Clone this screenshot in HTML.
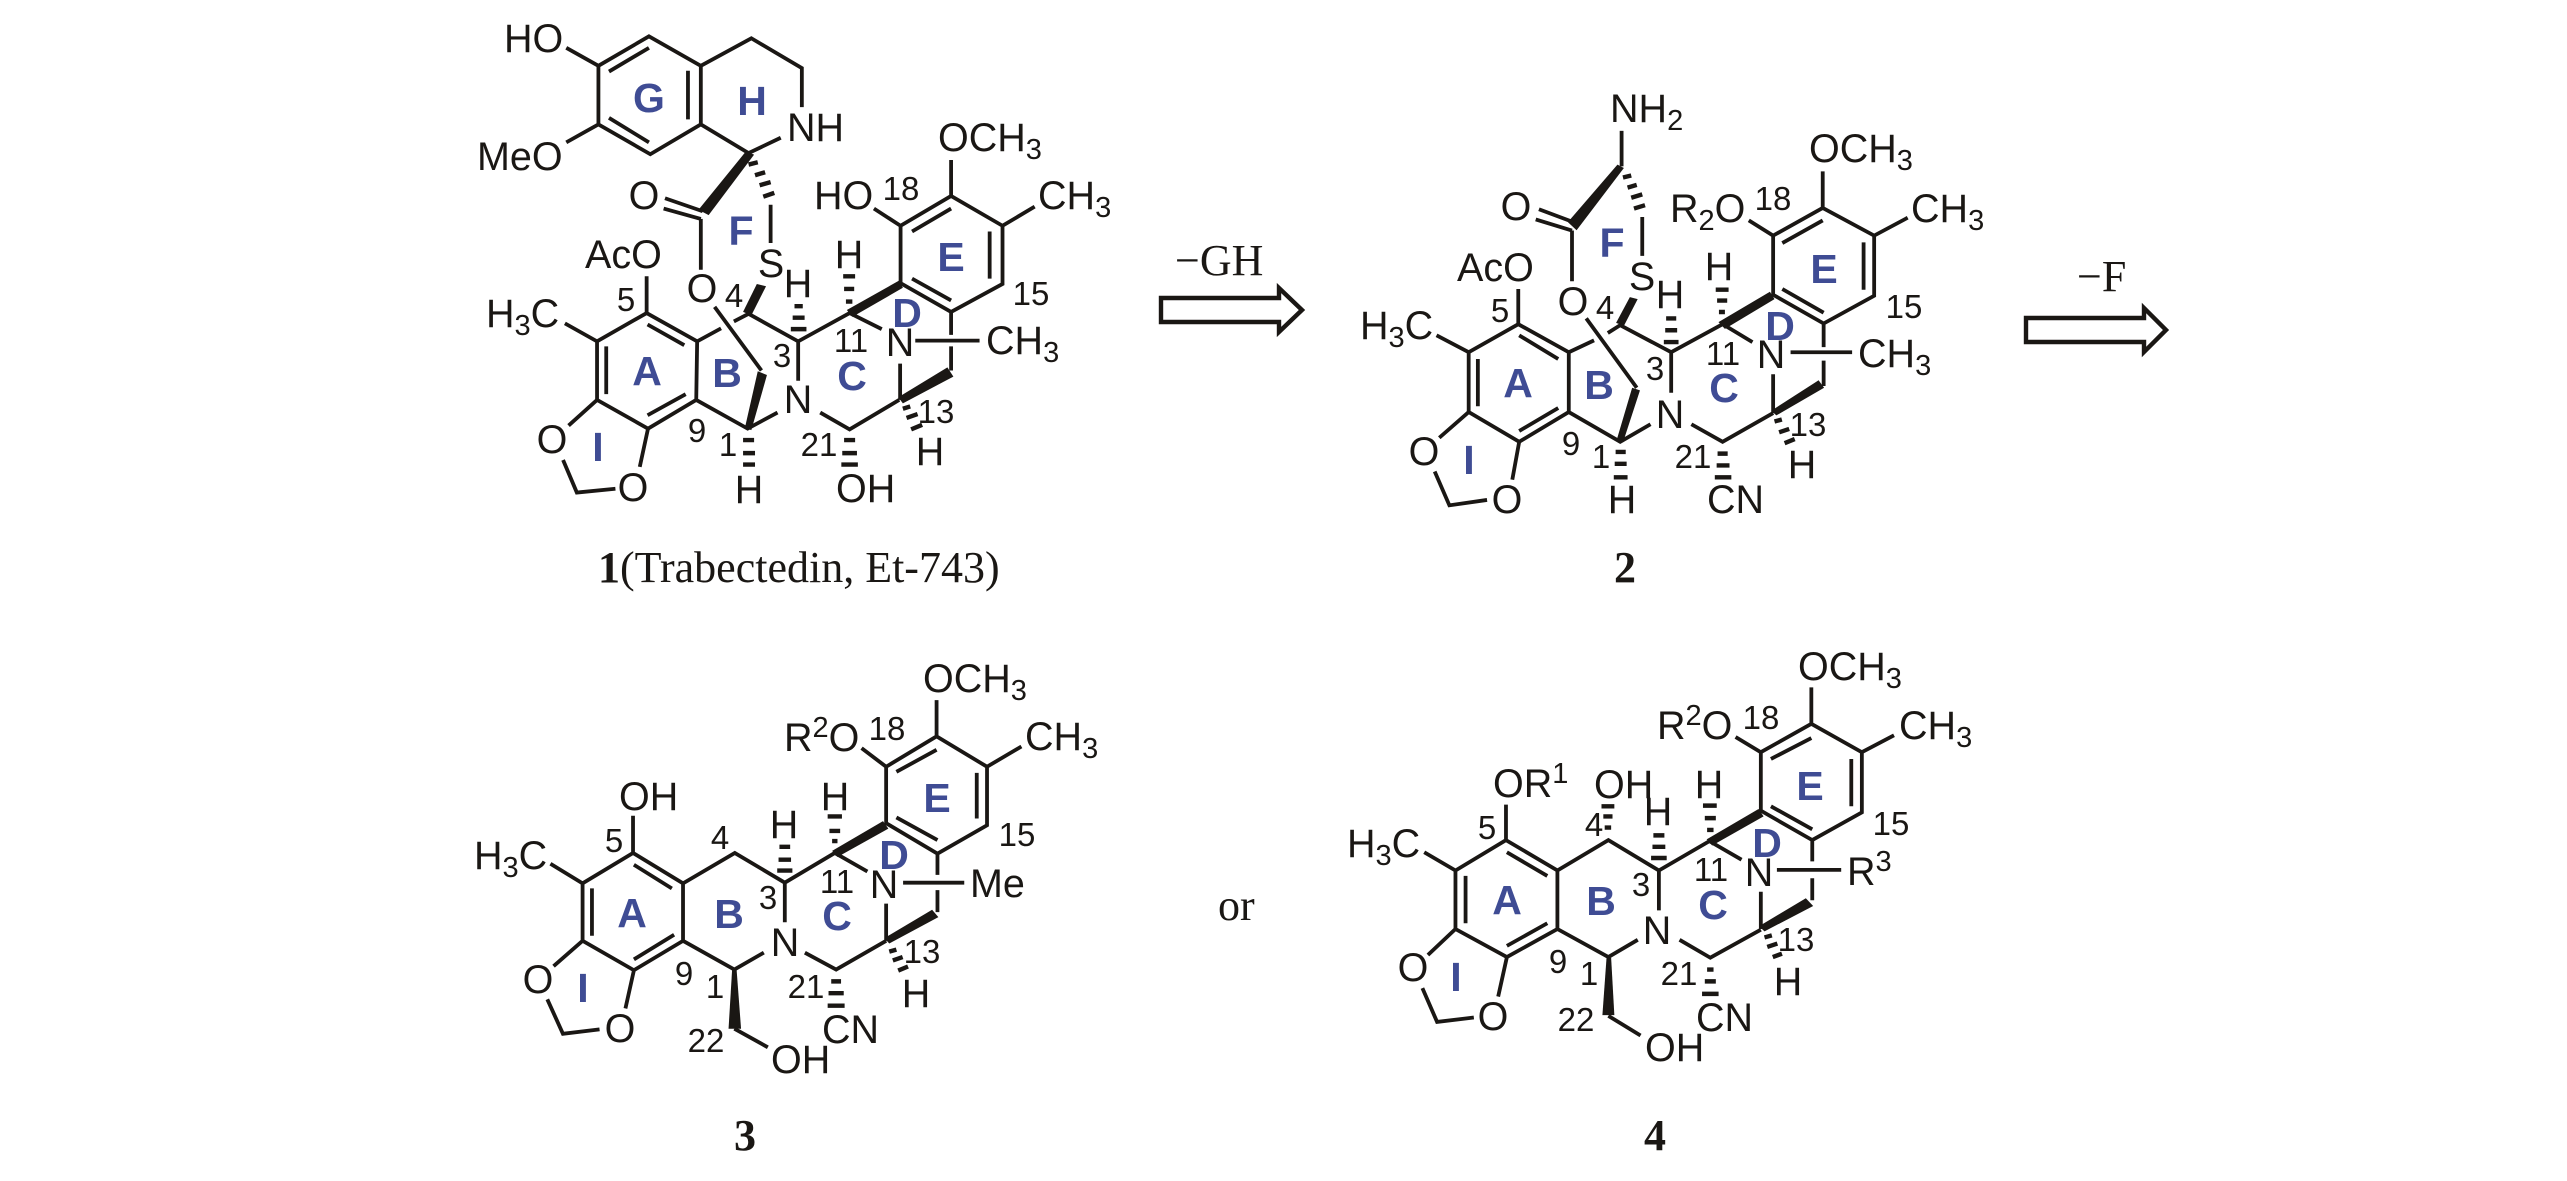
<!DOCTYPE html>
<html><head><meta charset="utf-8"><title>Trabectedin</title>
<style>
html,body{margin:0;padding:0;background:#fff;width:2567px;height:1181px;overflow:hidden}
svg{display:block}
path{fill:none;stroke:#1a1714;stroke-width:3.8;vector-effect:non-scaling-stroke}
path.h{stroke-width:4.4}
polygon{fill:#1a1714;stroke:none}
text{font-family:"Liberation Sans",sans-serif;fill:#1a1714;font-size:39.5px}
.m{text-anchor:middle}
.n{font-size:33px;text-anchor:middle}
.r{font-size:41px;font-weight:bold;fill:#3f4c94;text-anchor:middle}
.s{font-family:"Liberation Serif",serif;font-size:44px}
.b{font-family:"Liberation Serif",serif;font-size:44px;font-weight:bold;text-anchor:middle}
tspan.u{font-size:29px}
</style></head><body>
<svg width="2567" height="1181" viewBox="0 0 2567 1181" xmlns="http://www.w3.org/2000/svg">
<rect width="2567" height="1181" fill="#fff"/>

<!-- Compound 1 -->
<g transform="translate(440,0) scale(.4592,.3827)">
<path d="M275 125L345 172M345 172L455 95L568 172L568 325L458 403L345 325ZM368 187L455 125M540 185L540 312M368 308L455 372M568 172L678 100L788 178L788 280M568 325L672 400L742 360M345 325L275 372"/>
<polygon points="666,396 684,404 585,562 563,548"/>
<path class="h" d="M672 430L692 424M686 458L708 450M696 484L720 476M704 514L728 504"/>
<path d="M720 535L720 635M490 518L572 552M487 545L568 572M568 572L568 705M450 722L450 818"/>
<polygon points="690,742 710,748 678,824 660,815"/>
<path d="M450 818L560 892L558 1045L453 1120L342 1045L342 892ZM452 848L532 902M362 905L362 1030M452 1085L535 1030M272 845L342 892M560 892L612 858M640 840L672 820L780 892M598 802L700 968M558 1045L670 1120L735 1078M780 892L780 995M828 1078L892 1122L1000 1045M780 892L892 818M892 818L962 860"/>
<polygon points="692,970 712,980 678,1124 664,1118"/>
<polygon points="886,810 1000,733 1008,752 898,828"/>
<path class="h" d="M772 800L790 800M768 830L794 830M764 860L798 860M878 722L904 722M880 755L902 755M884 788L898 788"/>
<path d="M1003 590L1113 512L1225 590L1225 742L1113 815L1003 740ZM1028 605L1113 545M1197 605L1197 728M1028 728L1113 785M1113 512L1113 418M1225 590L1295 540M945 545L1003 590M1113 815L1113 875M1113 905L1113 968M1002 950L1002 1045M1035 890L1175 890"/>
<polygon points="998,1038 1105,960 1118,984 1008,1054"/>
<path class="h" d="M1008 1068L1024 1062M1016 1092L1040 1082M1026 1122L1050 1110M660 1150L684 1150M660 1184L686 1184M660 1214L686 1214M880 1150L904 1150M876 1184L908 1184M874 1214L910 1214"/>
<path d="M342 1045L280 1112M453 1120L435 1220M268 1202L298 1287L382 1277"/>
</g>
<text x="504" y="52">HO</text>
<text x="477" y="170">MeO</text>
<text x="787" y="141">NH</text>
<text class="m" x="644" y="209">O</text>
<text class="r" x="741" y="245">F</text>
<text class="m" x="771" y="277">S</text>
<text class="m" x="798" y="297">H</text>
<text x="585" y="268">AcO</text>
<text class="n" x="626" y="311">5</text>
<text class="n" x="734" y="307">4</text>
<text x="486" y="327">H<tspan class="u" dy="8">3</tspan><tspan dy="-8">C</tspan></text>
<text class="m" x="702" y="302">O</text>
<text x="814" y="209">HO</text>
<text class="n" x="901" y="200">18</text>
<text x="938" y="151">OCH<tspan class="u" dy="8">3</tspan></text>
<text x="1038" y="209">CH<tspan class="u" dy="8">3</tspan></text>
<text class="m" x="849" y="268">H</text>
<text class="r" x="951" y="271">E</text>
<text class="r" x="647" y="385">A</text>
<text class="r" x="727" y="387">B</text>
<text class="r" x="852" y="390">C</text>
<text class="r" x="907" y="327">D</text>
<text class="r" x="649" y="112">G</text>
<text class="r" x="752" y="115">H</text>
<text class="r" x="598" y="461">I</text>
<text class="n" x="1031" y="305">15</text>
<text class="m" x="900" y="356">N</text>
<text x="986" y="354">CH<tspan class="u" dy="8">3</tspan></text>
<text class="n" x="851" y="352">11</text>
<text class="n" x="782" y="367">3</text>
<text class="m" x="798" y="413">N</text>
<text class="n" x="936" y="423">13</text>
<text class="n" x="697" y="442">9</text>
<text class="n" x="728" y="456">1</text>
<text class="n" x="819" y="456">21</text>
<text class="m" x="930" y="465">H</text>
<text class="m" x="552" y="453">O</text>
<text class="m" x="633" y="501">O</text>
<text class="m" x="749" y="503">H</text>
<text x="836" y="502">OH</text>
<text class="s" x="598" y="582"><tspan font-weight="bold">1</tspan>(Trabectedin, Et-743)</text>

<!-- Arrow 1 -->
<path d="M1279 298L1161 298L1161 322L1279 322L1279 332L1302 310L1279 288Z" style="stroke-width:4.4"/>
<text class="s" x="1175" y="275">−GH</text>

<!-- Compound 2 -->
<g transform="translate(1330,70) scale(.4592,.338)">
<path d="M635 180L635 285"/>
<polygon points="626,280 640,290 537,474 518,450"/>
<path class="h" d="M638 318L656 312M648 348L668 340M656 378L680 368M662 410L686 400"/>
<path d="M680 435L680 550M455 412L530 450M448 442L527 475M527 475L527 625M410 648L410 750"/>
<polygon points="653,672 670,678 640,757 623,748"/>
<path d="M410 752L520 835L520 1012L412 1100L302 1012L302 835ZM412 785L497 855M322 855L322 995M412 1068L497 1000M232 785L302 835M520 835L575 800M605 778L632 755L743 835M558 735L668 940M520 1012L632 1100L698 1048M743 835L743 955M787 1048L855 1100L965 1015M743 835L855 752M855 752L920 805"/>
<polygon points="658,940 675,948 638,1102 624,1096"/>
<polygon points="846,746 958,656 968,678 860,766"/>
<path class="h" d="M732 735L754 735M730 770L756 770M727 805L759 805M840 650L868 650M843 682L865 682M847 716L860 716"/>
<path d="M965 490L1073 408L1185 490L1185 668L1075 750L965 665ZM985 512L1073 445M1162 510L1162 650M985 648L1075 718M1073 300L1073 408M1185 490L1258 437M912 445L965 490M1075 750L1075 820M1075 860L1075 935M965 900L965 1015M1003 835L1137 835"/>
<polygon points="961,1008 1064,918 1076,940 972,1022"/>
<path class="h" d="M968 1040L984 1034M978 1072L1000 1062M990 1104L1012 1092M622 1130L644 1130M620 1165L646 1165M618 1205L648 1205M844 1135L866 1135M842 1170L870 1170M838 1205L874 1205"/>
<path d="M302 1012L238 1088M412 1100L397 1212M228 1188L260 1288L342 1272"/>
</g>
<text x="1610" y="122">NH<tspan class="u" dy="8">2</tspan></text>
<text class="m" x="1516" y="220">O</text>
<text class="r" x="1612" y="257">F</text>
<text class="m" x="1642" y="290">S</text>
<text class="m" x="1670" y="308">H</text>
<text x="1670" y="222">R<tspan class="u" dy="8">2</tspan><tspan dy="-8">O</tspan></text>
<text class="n" x="1773" y="210">18</text>
<text x="1809" y="162">OCH<tspan class="u" dy="8">3</tspan></text>
<text x="1911" y="222">CH<tspan class="u" dy="8">3</tspan></text>
<text class="m" x="1719" y="280">H</text>
<text class="r" x="1824" y="283">E</text>
<text x="1457" y="281">AcO</text>
<text class="n" x="1500" y="322">5</text>
<text class="n" x="1605" y="319">4</text>
<text class="m" x="1573" y="315">O</text>
<text class="n" x="1904" y="318">15</text>
<text x="1360" y="339">H<tspan class="u" dy="8">3</tspan><tspan dy="-8">C</tspan></text>
<text class="r" x="1780" y="340">D</text>
<text class="m" x="1771" y="368">N</text>
<text x="1858" y="367">CH<tspan class="u" dy="8">3</tspan></text>
<text class="n" x="1723" y="365">11</text>
<text class="n" x="1655" y="380">3</text>
<text class="r" x="1518" y="397">A</text>
<text class="r" x="1599" y="399">B</text>
<text class="r" x="1724" y="402">C</text>
<text class="m" x="1670" y="428">N</text>
<text class="n" x="1808" y="436">13</text>
<text class="n" x="1571" y="455">9</text>
<text class="n" x="1601" y="468">1</text>
<text class="n" x="1693" y="468">21</text>
<text class="m" x="1802" y="478">H</text>
<text class="m" x="1424" y="465">O</text>
<text class="r" x="1469" y="474">I</text>
<text class="m" x="1507" y="513">O</text>
<text class="m" x="1622" y="513">H</text>
<text x="1707" y="513">CN</text>
<text class="b" x="1625" y="582">2</text>

<!-- Arrow 2 -->
<path d="M2144 318L2026 318L2026 342L2144 342L2144 352L2166 330L2144 308Z" style="stroke-width:4.4"/>
<text class="s" x="2077" y="291">−F</text>

<!-- Compound 3 -->
<g transform="translate(450,640) scale(.4464,.338)">
<path d="M1090 178L1090 285M977 375L1090 285L1203 375L1203 548L1092 632L977 542ZM1000 390L1090 325M1180 393L1180 528M1000 525L1092 592M1203 375L1280 315M922 320L977 375M410 520L410 630M410 630L522 720L522 890L412 977L297 890L297 720ZM412 665L497 735M318 735L318 875M412 945L502 872M225 662L297 720M522 720L638 630L750 718M522 890L637 975L703 925M750 718L750 835M795 925L865 975L977 890M750 718L862 630M862 630L935 685M1092 632L1092 695M1092 740L1092 805M977 780L977 890M1015 718L1152 718M637 1150L712 1205M297 890L232 965M412 977L393 1090M218 1063L253 1165L335 1152"/>
<polygon points="856,624 970,536 982,558 868,642"/>
<polygon points="973,882 1080,798 1094,820 984,898"/>
<polygon points="632,975 624,1150 652,1150 642,975"/>
<path class="h" d="M738 612L762 612M736 650L764 650M733 682L767 682M846 522L878 522M850 565L874 565M856 595L868 595M854 1010L876 1010M848 1045L882 1045M846 1082L884 1082M984 922L1000 916M992 948L1014 938M1004 978L1026 966"/>
</g>
<text x="923" y="692">OCH<tspan class="u" dy="8">3</tspan></text>
<text x="784" y="751">R<tspan class="u" dy="-14">2</tspan><tspan dy="14">O</tspan></text>
<text class="n" x="887" y="740">18</text>
<text x="1025" y="750">CH<tspan class="u" dy="8">3</tspan></text>
<text x="619" y="810">OH</text>
<text class="m" x="835" y="810">H</text>
<text class="r" x="937" y="812">E</text>
<text class="m" x="784" y="838">H</text>
<text class="n" x="720" y="849">4</text>
<text class="n" x="614" y="852">5</text>
<text class="n" x="1017" y="846">15</text>
<text x="474" y="869">H<tspan class="u" dy="8">3</tspan><tspan dy="-8">C</tspan></text>
<text class="r" x="894" y="869">D</text>
<text class="m" x="884" y="898">N</text>
<text x="970" y="897">Me</text>
<text class="n" x="837" y="893">11</text>
<text class="n" x="768" y="909">3</text>
<text class="r" x="632" y="927">A</text>
<text class="r" x="729" y="928">B</text>
<text class="r" x="837" y="930">C</text>
<text class="m" x="785" y="956">N</text>
<text class="n" x="922" y="963">13</text>
<text class="n" x="684" y="985">9</text>
<text class="n" x="715" y="998">1</text>
<text class="n" x="806" y="998">21</text>
<text class="m" x="916" y="1007">H</text>
<text class="m" x="538" y="993">O</text>
<text class="r" x="583" y="1002">I</text>
<text class="m" x="620" y="1042">O</text>
<text class="n" x="706" y="1052">22</text>
<text x="822" y="1043">CN</text>
<text x="771" y="1073">OH</text>
<text class="b" x="745" y="1150">3</text>

<text class="s" x="1218" y="920">or</text>

<!-- Compound 4 -->
<g transform="translate(1320,640) scale(.4592,.338)">
<path d="M1070 140L1070 248M960 332L1070 248L1180 332L1180 510L1072 592L960 505ZM982 352L1070 290M1157 352L1157 492M982 492L1072 560M1180 332L1250 282M905 287L960 332M405 487L405 592M405 592L517 682L517 855L407 938L295 855L295 682ZM407 628L495 698M317 698L317 838M407 905L495 838M227 628L295 682M517 682L628 592L738 682M517 855L628 938L692 887M738 682L738 800M783 887L850 940L960 857M738 682L848 595M848 595L918 650M1072 592L1072 655M1072 705L1072 770M960 745L960 855M995 680L1135 680M628 1112L698 1170M295 855L235 932M407 938L388 1055M223 1030L255 1130L335 1117"/>
<polygon points="842,590 955,500 966,522 854,608"/>
<polygon points="956,847 1058,764 1074,787 968,862"/>
<polygon points="624,940 615,1110 641,1110 634,940"/>
<path class="h" d="M613 492L641 492M617 522L637 522M620 555L634 555M726 578L750 578M724 612L752 612M721 645L755 645M834 490L864 490M838 527L862 527M843 562L857 562M843 975L857 975M838 1010L862 1010M832 1047L868 1047M968 880L984 874M974 908L996 898M986 938L1006 928"/>
</g>
<text x="1798" y="680">OCH<tspan class="u" dy="8">3</tspan></text>
<text x="1657" y="739">R<tspan class="u" dy="-14">2</tspan><tspan dy="14">O</tspan></text>
<text class="n" x="1761" y="729">18</text>
<text x="1899" y="739">CH<tspan class="u" dy="8">3</tspan></text>
<text x="1493" y="797">OR<tspan class="u" dy="-14">1</tspan></text>
<text x="1594" y="798">OH</text>
<text class="m" x="1709" y="798">H</text>
<text class="r" x="1810" y="800">E</text>
<text class="m" x="1658" y="825">H</text>
<text class="n" x="1594" y="836">4</text>
<text class="n" x="1487" y="839">5</text>
<text class="n" x="1891" y="835">15</text>
<text x="1347" y="857">H<tspan class="u" dy="8">3</tspan><tspan dy="-8">C</tspan></text>
<text class="r" x="1767" y="857">D</text>
<text class="m" x="1759" y="886">N</text>
<text x="1847" y="885">R<tspan class="u" dy="-14">3</tspan></text>
<text class="n" x="1711" y="881">11</text>
<text class="n" x="1641" y="896">3</text>
<text class="r" x="1507" y="914">A</text>
<text class="r" x="1601" y="915">B</text>
<text class="r" x="1713" y="919">C</text>
<text class="m" x="1657" y="944">N</text>
<text class="n" x="1796" y="951">13</text>
<text class="n" x="1558" y="973">9</text>
<text class="n" x="1589" y="985">1</text>
<text class="n" x="1679" y="985">21</text>
<text class="m" x="1788" y="995">H</text>
<text class="m" x="1413" y="981">O</text>
<text class="r" x="1456" y="991">I</text>
<text class="m" x="1493" y="1030">O</text>
<text class="n" x="1576" y="1031">22</text>
<text x="1696" y="1031">CN</text>
<text x="1645" y="1061">OH</text>
<text class="b" x="1655" y="1150">4</text>
</svg>
</body></html>
